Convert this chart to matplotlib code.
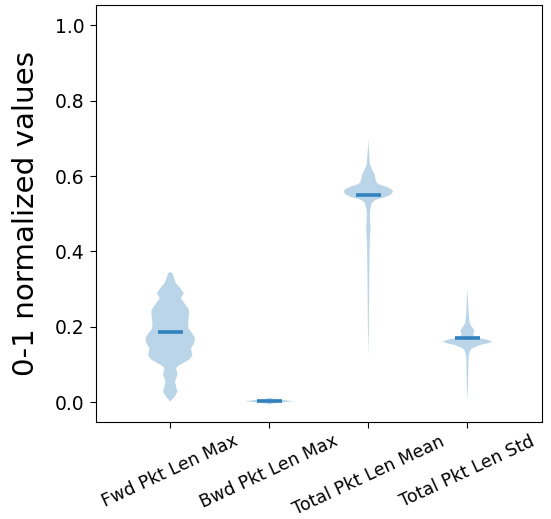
import numpy as np
import matplotlib
matplotlib.use("Agg")
import matplotlib.pyplot as plt

# feature names on the x axis
features = ["Fwd Pkt Len Max", "Bwd Pkt Len Max", "Total Pkt Len Mean", "Total Pkt Len Std"]

# density profile: y positions and relative widths
fwd_y = [0.002, 0.015, 0.028, 0.040, 0.055, 0.063, 0.072, 0.082, 0.090, 0.097, 0.103,
         0.114, 0.125, 0.134, 0.143, 0.156, 0.170, 0.182, 0.195, 0.207, 0.218, 0.232,
         0.245, 0.262, 0.276, 0.283, 0.289, 0.303, 0.316, 0.330, 0.342, 0.346]
fwd_w = [0.00, 0.18, 0.29, 0.24, 0.19, 0.23, 0.29, 0.27, 0.23, 0.33, 0.50,
         0.78, 0.90, 0.86, 0.84, 0.96, 1.00, 0.90, 0.74, 0.72, 0.73, 0.76,
         0.76, 0.58, 0.43, 0.48, 0.55, 0.40, 0.23, 0.15, 0.09, 0.00]

bwd_y = [-0.006, -0.003, 0.000, 0.003, 0.006, 0.009, 0.012]
bwd_w = [0.00, 0.15, 0.55, 1.00, 0.55, 0.15, 0.00]

tot_mean_y = [0.120, 0.200, 0.300, 0.351, 0.400, 0.430, 0.466, 0.480, 0.501, 0.515,
              0.528, 0.537, 0.545, 0.552, 0.559, 0.566, 0.572, 0.579, 0.585, 0.596,
              0.607, 0.616, 0.630, 0.660, 0.700]
tot_mean_w = [0.00, 0.02, 0.03, 0.04, 0.05, 0.06, 0.09, 0.07, 0.06, 0.09,
              0.14, 0.28, 0.72, 0.93, 1.00, 0.92, 0.72, 0.40, 0.32, 0.28,
              0.24, 0.16, 0.07, 0.03, 0.00]

tot_std_y = [0.002, 0.040, 0.094, 0.120, 0.134, 0.143, 0.152, 0.157, 0.161, 0.166,
             0.170, 0.179, 0.186, 0.192, 0.200, 0.210, 0.236, 0.263, 0.302]
tot_std_w = [0.00, 0.02, 0.04, 0.05, 0.09, 0.18, 0.52, 0.85, 1.00, 0.80,
             0.48, 0.22, 0.27, 0.27, 0.18, 0.09, 0.05, 0.03, 0.00]

means = [0.186, 0.003, 0.550, 0.170]

profiles = [(fwd_y, fwd_w), (bwd_y, bwd_w), (tot_mean_y, tot_mean_w), (tot_std_y, tot_std_w)]

vpstats = []
for (ys, ws), m in zip(profiles, means):
    vpstats.append({
        "coords": np.array(ys),
        "vals": np.array(ws),
        "mean": m,
        "median": m,
        "min": ys[0],
        "max": ys[-1],
    })

fig = plt.figure(figsize=(5.51, 5.19), dpi=100)
ax = fig.add_axes([0.1742, 0.1875, 0.8089, 0.8029])

pos = np.arange(1, len(features) + 1)
parts = ax.violin(vpstats, positions=pos, widths=0.5,
                  showmeans=True, showextrema=False, showmedians=False)
parts["cmeans"].set_linewidth(2.6)
parts["cmeans"].set_color("#3282be")

ax.set_xticks(pos)
ax.set_xticklabels(features, rotation=25, fontsize=12.6)
ax.tick_params(axis="y", labelsize=13.5)
ax.tick_params(length=4.5)
ax.tick_params(axis="x", pad=3)
ax.set_xlim(0.25, 4.75)
ax.set_ylim(-0.0515, 1.054)
ax.set_ylabel("0-1 normalized values", fontsize=21.2, labelpad=11)

fig.savefig("out.png", dpi=100)
